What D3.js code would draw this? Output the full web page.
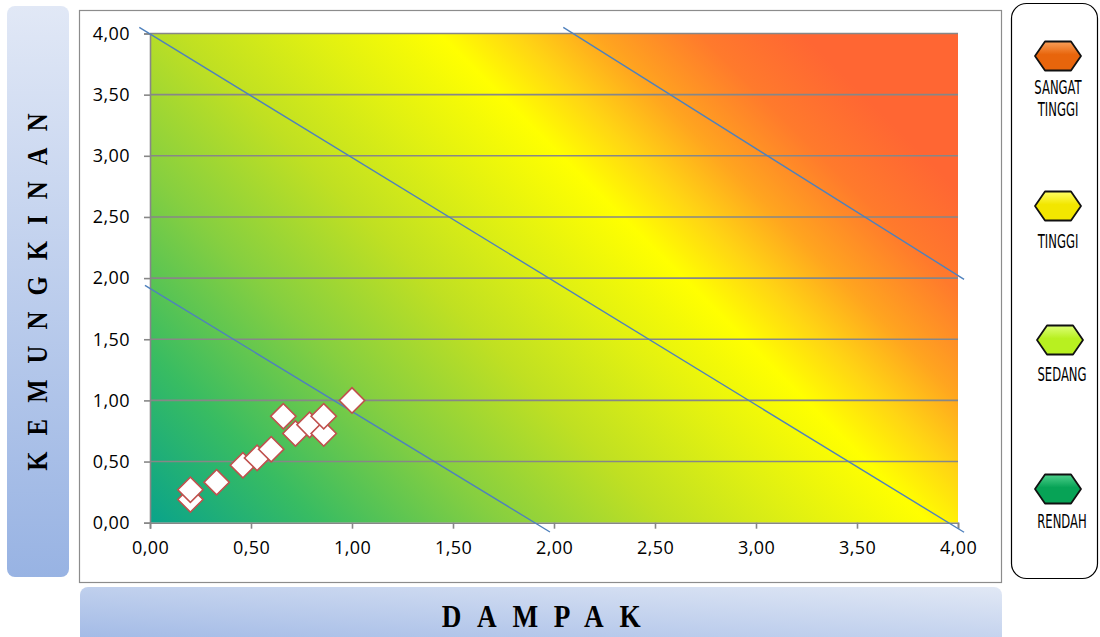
<!DOCTYPE html>
<html>
<head>
<meta charset="utf-8">
<script src="https://cdn.jsdelivr.net/npm/d3@7"></script>
<style>
  html, body { margin: 0; padding: 0; background: #fff; }
  svg { display: block; }
</style>
</head>
<body>
<div id="chart"></div>
<script>
// risk points: dampak (x) and kemungkinan (y)
const dampak      = [0.20, 0.20, 0.33, 0.46, 0.53, 0.60, 0.66, 0.72, 0.79, 0.86, 0.86, 1.00];
const kemungkinan = [0.19, 0.27, 0.33, 0.47, 0.53, 0.60, 0.87, 0.73, 0.80, 0.73, 0.87, 1.00];

const xTicks = [0, 0.5, 1, 1.5, 2, 2.5, 3, 3.5, 4];
const yTicks = [0, 0.5, 1, 1.5, 2, 2.5, 3, 3.5, 4];

// zone boundary lines, [x1, y1, x2, y2] in data units
const zoneLines = [
  [-0.025, 1.94, 1.98, -0.076],
  [-0.053, 4.05, 4.03, -0.078],
  [2.046, 4.05, 4.03, 1.99],
];

const legendNames  = [['SANGAT', 'TINGGI'], ['TINGGI'], ['SEDANG'], ['RENDAH']];
const legendTop    = ['#f9a05a', '#ffff66', '#ddff77', '#4fd08c'];
const legendBottom = ['#e8650c', '#f2e600', '#b8f020', '#07a356'];

const W = 1100, H = 637;
const fmt = d => d3.format('.2f')(d).replace('.', ',');

const svg = d3.select('#chart').append('svg')
  .attr('width', W).attr('height', H);
const defs = svg.append('defs');

const x = d3.scaleLinear().domain([0, 4]).range([150, 958]);
const y = d3.scaleLinear().domain([0, 4]).range([522.7, 33.5]);

// background gradient, 45 degrees in screen space
const x0 = x(0), y0 = y(0);
const dd = ((x(4) - x0) + (y0 - y(4))) / 2;
const bg = defs.append('linearGradient').attr('id', 'bg')
  .attr('gradientUnits', 'userSpaceOnUse')
  .attr('x1', x0).attr('y1', y0).attr('x2', x0 + dd).attr('y2', y0 - dd);
[[0, '#0aa38a'], [0.13, '#38bc62'], [0.27, '#86cf40'], [0.4, '#c0e022'],
 [0.5, '#e0f012'], [0.6, '#ffff00'], [0.66, '#ffd414'], [0.72, '#ffa51f'],
 [0.8, '#ff7a2c'], [0.88, '#ff6633'], [1, '#ff6633']]
  .forEach(([o, c]) => bg.append('stop').attr('offset', o).attr('stop-color', c));

const yl = defs.append('linearGradient').attr('id', 'ylab')
  .attr('x1', 0).attr('y1', 0).attr('x2', 0).attr('y2', 1);
yl.append('stop').attr('offset', 0).attr('stop-color', '#e1e8f6');
yl.append('stop').attr('offset', 1).attr('stop-color', '#98b3e3');

const xl = defs.append('linearGradient').attr('id', 'xlab')
  .attr('x1', 0).attr('y1', 1).attr('x2', 1).attr('y2', 0);
xl.append('stop').attr('offset', 0).attr('stop-color', '#9eb7e5');
xl.append('stop').attr('offset', 1).attr('stop-color', '#e1e8f5');

legendTop.forEach((c, i) => {
  const g = defs.append('linearGradient').attr('id', 'hex' + i)
    .attr('x1', 0).attr('y1', 0).attr('x2', 0).attr('y2', 1);
  g.append('stop').attr('offset', 0).attr('stop-color', c);
  g.append('stop').attr('offset', 0.45).attr('stop-color', legendBottom[i]);
  g.append('stop').attr('offset', 1).attr('stop-color', legendBottom[i]);
});

// axis title boxes
svg.append('rect').attr('x', 7).attr('y', 6).attr('width', 62).attr('height', 571)
  .attr('rx', 8).attr('fill', 'url(#ylab)');
svg.append('rect').attr('x', 80).attr('y', 587).attr('width', 922).attr('height', 60)
  .attr('rx', 8).attr('fill', 'url(#xlab)');

svg.append('text')
  .attr('transform', 'translate(47,284) rotate(-90) scale(0.85,1)')
  .attr('text-anchor', 'middle')
  .attr('font-family', 'Liberation Serif, serif').attr('font-weight', 'bold')
  .attr('font-size', 29).attr('letter-spacing', 19)
  .text('KEMUNGKINAN');

svg.append('text')
  .attr('transform', 'translate(549,627) scale(0.85,1)')
  .attr('text-anchor', 'middle')
  .attr('font-family', 'Liberation Serif, serif').attr('font-weight', 'bold')
  .attr('font-size', 32).attr('letter-spacing', 18.5)
  .text('DAMPAK');

// chart frame
svg.append('rect').attr('x', 79.5).attr('y', 10.5).attr('width', 922).attr('height', 572)
  .attr('fill', '#fff').attr('stroke', '#8c8c8c').attr('stroke-width', 1.2);

svg.append('rect')
  .attr('x', x(0)).attr('y', y(4))
  .attr('width', x(4) - x(0)).attr('height', y(0) - y(4))
  .attr('fill', 'url(#bg)');

// gridlines
svg.append('g').selectAll('line').data(yTicks.filter(d => d > 0)).join('line')
  .attr('x1', x(0)).attr('x2', x(4))
  .attr('y1', d => y(d)).attr('y2', d => y(d))
  .attr('stroke', '#878787').attr('stroke-width', 1.6);

const axisStyle = g => {
  g.select('.domain').attr('stroke', '#878787').attr('stroke-width', 1.6);
  g.selectAll('.tick line').attr('stroke', '#878787').attr('stroke-width', 1.6);
  g.selectAll('.tick text')
    .attr('font-family', 'Open Sans, sans-serif').attr('font-size', 18)
    .attr('letter-spacing', 0.4).attr('fill', '#000');
};

svg.append('g').attr('transform', `translate(0,${y(0)})`)
  .call(d3.axisBottom(x).tickValues(xTicks).tickFormat(fmt).tickSizeOuter(0).tickSize(6).tickPadding(13))
  .call(axisStyle);

svg.append('g').attr('transform', `translate(${x(0)},0)`)
  .call(d3.axisLeft(y).tickValues(yTicks).tickFormat(fmt).tickSizeOuter(0).tickSize(6).tickPadding(14))
  .call(axisStyle);

// zone lines
svg.append('g').selectAll('line').data(zoneLines).join('line')
  .attr('x1', d => x(d[0])).attr('y1', d => y(d[1]))
  .attr('x2', d => x(d[2])).attr('y2', d => y(d[3]))
  .attr('stroke', '#4f81bd').attr('stroke-width', 1.4);

// points
const diamond = d3.symbol().type(d3.symbolSquare).size(320);
svg.append('g').selectAll('path').data(dampak).join('path')
  .attr('d', diamond)
  .attr('transform', (d, i) => `translate(${x(d)},${y(kemungkinan[i])}) rotate(45)`)
  .attr('fill', '#fff').attr('stroke', '#c0504d').attr('stroke-width', 1.6);

// legend
svg.append('rect').attr('x', 1011.5).attr('y', 3.5).attr('width', 86).attr('height', 575)
  .attr('rx', 15).attr('fill', '#fff').attr('stroke', '#000').attr('stroke-width', 1.2);

const hexY = [56, 206, 340, 489];
const hexX = [1058, 1058, 1060, 1058];
const labelY = [94, 248, 381, 528];
const labelX = [1058, 1058, 1062, 1062];
const hex = [[-23, 0], [-13, -14.5], [13, -14.5], [23, 0], [13, 14.5], [-13, 14.5]];

legendNames.forEach((names, i) => {
  svg.append('polygon')
    .attr('points', hex.map(p => [p[0] + hexX[i], p[1] + hexY[i]].join(',')).join(' '))
    .attr('fill', `url(#hex${i})`).attr('stroke', '#111').attr('stroke-width', 1.8)
    .attr('stroke-linejoin', 'round');
  names.forEach((n, j) => {
    svg.append('text')
      .attr('transform', `translate(${labelX[i]},${labelY[i] + j * 22}) scale(0.68,1)`)
      .attr('text-anchor', 'middle')
      .attr('font-family', 'Liberation Sans Narrow, DejaVu Sans Condensed, sans-serif')
      .attr('font-size', 19).attr('fill', '#000')
      .text(n);
  });
});
</script>
</body>
</html>
